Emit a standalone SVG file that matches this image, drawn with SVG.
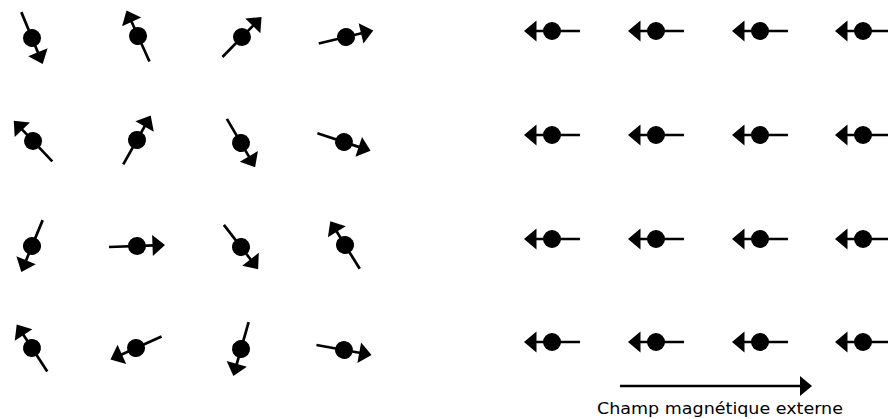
<svg xmlns="http://www.w3.org/2000/svg" xmlns:xlink="http://www.w3.org/1999/xlink" width="888" height="419" viewBox="0 0 888 419">
<style>
.ln{stroke:#000;stroke-width:2.7;fill:none}
.lbl{font-family:"DejaVu Sans",sans-serif;font-size:16.5px;fill:#000}
</style>
<defs>
<g id="spin">
<line class="ln" x1="-28" y1="0" x2="17" y2="0"/>
<circle cx="0" cy="0" r="9" fill="#000"/>
<polygon points="28,0 15.5,-10.5 15.5,10.5" fill="#000"/>
</g>
<marker id="ah" viewBox="0 0 12 20" refX="1" refY="10" markerWidth="12" markerHeight="20" markerUnits="userSpaceOnUse" orient="auto">
<path d="M0,0 L12,10 L0,20 Z" fill="#000"/>
</marker>
</defs>
<g id="random">
<use id="r1c1" xlink:href="#spin" transform="translate(32,38) rotate(67.6)"/>
<use id="r1c2" xlink:href="#spin" transform="translate(138,36) rotate(245.8)"/>
<use id="r1c3" xlink:href="#spin" transform="translate(242,37) rotate(-45.7)"/>
<use id="r1c4" xlink:href="#spin" transform="translate(346,37) rotate(-13.5)"/>
<use id="r2c1" xlink:href="#spin" transform="translate(33,141) rotate(-133.5)"/>
<use id="r2c2" xlink:href="#spin" transform="translate(137,140) rotate(-60.6)"/>
<use id="r2c3" xlink:href="#spin" transform="translate(241,143) rotate(59.7)"/>
<use id="r2c4" xlink:href="#spin" transform="translate(344,142) rotate(18.4)"/>
<use id="r3c1" xlink:href="#spin" transform="translate(32,246) rotate(112.4)"/>
<use id="r3c2" xlink:href="#spin" transform="translate(137,246) rotate(-2)"/>
<use id="r3c3" xlink:href="#spin" transform="translate(241,247) rotate(52.3)"/>
<use id="r3c4" xlink:href="#spin" transform="translate(345,245) rotate(-121.7)"/>
<use id="r4c1" xlink:href="#spin" transform="translate(32,348) rotate(-123.1)"/>
<use id="r4c2" xlink:href="#spin" transform="translate(136,348) rotate(155.7)"/>
<use id="r4c3" xlink:href="#spin" transform="translate(241,349) rotate(105.8)"/>
<use id="r4c4" xlink:href="#spin" transform="translate(344,350) rotate(10.3)"/>
</g>
<g id="aligned">
<use xlink:href="#spin" transform="translate(552,31) rotate(180)"/>
<use xlink:href="#spin" transform="translate(656,31) rotate(180)"/>
<use xlink:href="#spin" transform="translate(760,31) rotate(180)"/>
<use xlink:href="#spin" transform="translate(863,31) rotate(180)"/>
<use xlink:href="#spin" transform="translate(552,135) rotate(180)"/>
<use xlink:href="#spin" transform="translate(656,135) rotate(180)"/>
<use xlink:href="#spin" transform="translate(760,135) rotate(180)"/>
<use xlink:href="#spin" transform="translate(863,135) rotate(180)"/>
<use xlink:href="#spin" transform="translate(552,239) rotate(180)"/>
<use xlink:href="#spin" transform="translate(656,239) rotate(180)"/>
<use xlink:href="#spin" transform="translate(760,239) rotate(180)"/>
<use xlink:href="#spin" transform="translate(863,239) rotate(180)"/>
<use xlink:href="#spin" transform="translate(552,342) rotate(180)"/>
<use xlink:href="#spin" transform="translate(656,342) rotate(180)"/>
<use xlink:href="#spin" transform="translate(760,342) rotate(180)"/>
<use xlink:href="#spin" transform="translate(863,342) rotate(180)"/>
</g>
<g id="connectors">
<line class="ln" x1="620" y1="386" x2="801" y2="386" marker-end="url(#ah)"/>
</g>
<g id="field-label">
<text class="lbl" x="597" y="414" textLength="246" lengthAdjust="spacingAndGlyphs">Champ magnétique externe</text>
</g>
</svg>
